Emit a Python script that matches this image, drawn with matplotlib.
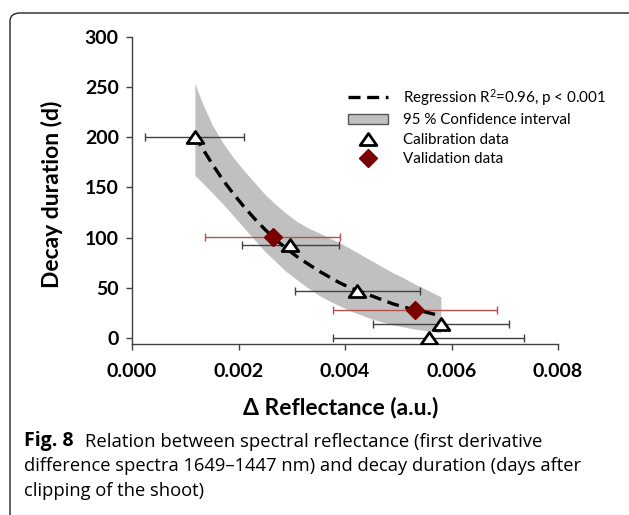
import matplotlib
matplotlib.use("Agg")
import matplotlib.pyplot as plt
from matplotlib.patches import FancyBboxPatch, Patch
from matplotlib.lines import Line2D
from matplotlib.path import Path

# ---- data ----
cal_x = [0.00118, 0.00297, 0.00423, 0.00580, 0.00557]
cal_y = [200, 93, 47, 14, 0]
cal_xerr = [0.00093, 0.00091, 0.00117, 0.00128, 0.00180]

val_x = [0.00264, 0.00531]
val_y = [101, 28]
val_xerr = [0.00126, 0.00154]

reg_x = [0.00118, 0.0013, 0.0015, 0.0017, 0.0019, 0.0021, 0.0023, 0.0025,
         0.0027, 0.0029, 0.0031, 0.0033, 0.0035, 0.0037, 0.0039, 0.0041,
         0.0043, 0.0045, 0.0047, 0.0049, 0.0051, 0.0053, 0.0055, 0.0058]
reg_y = [202, 191, 174, 158, 144, 131, 119, 108, 98, 89, 81, 74, 67, 61,
         55, 50, 46, 42, 38, 34, 31, 28, 26, 22]
ci_upper = [254, 237, 213, 195, 180, 167, 155, 143, 133, 124, 116, 110,
            105, 100, 95, 89, 83, 77, 71, 65, 60, 54, 49, 41]
ci_lower = [162, 156, 145, 134, 122, 110, 98, 86, 76, 66, 58, 50, 43, 37,
            32, 27, 23, 19, 16, 13, 11, 9, 7.5, 5]

x_ticks = [0.000, 0.002, 0.004, 0.006, 0.008]
x_ticklabels = ["0.000", "0.002", "0.004", "0.006", "0.008"]
y_ticks = [0, 50, 100, 150, 200, 250, 300]

legend_labels = ["Regression R$^{2}$=0.96, p < 0.001", "95 % Confidence interval",
                 "Calibration data", "Validation data"]
caption_bold = "Fig. 8"
caption_lines = ["Relation between spectral reflectance (first derivative",
                 "difference spectra 1649\u20131447 nm) and decay duration (days after",
                 "clipping of the shoot)"]

plt.rcParams['font.family'] = ['Lato', 'DejaVu Sans']
plt.rcParams['mathtext.fontset'] = 'custom'
plt.rcParams['mathtext.rm'] = 'Lato'
plt.rcParams['mathtext.it'] = 'Lato:italic'
plt.rcParams['mathtext.bf'] = 'Lato:bold'

W, H = 629, 515
fig = plt.figure(figsize=(W / 100, H / 100), dpi=100)

def fx(px):
    return px / W

def fy(py):
    return 1 - py / H

ax = fig.add_axes([fx(132), fy(344), fx(558) - fx(132), fy(37) - fy(344)])

axis_col = "#404040"
band_col = "#c0c0c0"
val_err_col = "#b5504d"
val_col = "#7a0000"

ax.fill_between(reg_x, ci_lower, ci_upper, color=band_col, lw=0, zorder=1)

ax.errorbar(cal_x, cal_y, xerr=cal_xerr, fmt='none', ecolor=axis_col,
            elinewidth=1.0, capsize=2.7, capthick=1.0, zorder=2)
ax.errorbar(val_x, val_y, xerr=val_xerr, fmt='none', ecolor=val_err_col,
            elinewidth=1.0, capsize=2.7, capthick=1.0, zorder=2)

ax.plot(reg_x, reg_y, color='black', lw=2.4, linestyle=(0, (3.6, 2.0)), zorder=3)

tri = Path([(0, 0.72), (-1, -0.72), (1, -0.72), (0, 0.72)],
           [Path.MOVETO, Path.LINETO, Path.LINETO, Path.CLOSEPOLY])
ax.plot(cal_x, cal_y, linestyle='none', marker=tri, markersize=12,
        markerfacecolor='white', markeredgecolor='black', markeredgewidth=2.0,
        zorder=4)
ax.plot(val_x, val_y, linestyle='none', marker='D', markersize=9.5,
        markerfacecolor=val_col, markeredgecolor=val_col, zorder=5)

ax.set_xlim(0, 0.008)
ax.set_ylim(-6, 300)
ax.set_xticks(x_ticks)
ax.set_xticklabels(x_ticklabels)
ax.set_yticks(y_ticks)
for s in ['top', 'right']:
    ax.spines[s].set_visible(False)
for s in ['left', 'bottom']:
    ax.spines[s].set_color(axis_col)
    ax.spines[s].set_linewidth(1.0)
ax.tick_params(axis='both', colors=axis_col, width=1.0, length=4.5,
               labelsize=14, labelcolor='black')
ax.tick_params(axis='x', pad=9)
ax.tick_params(axis='y', pad=5)
for lab in ax.get_xticklabels() + ax.get_yticklabels():
    lab.set_fontweight('bold')

ax.set_xlabel("\u0394 Reflectance (a.u.)", fontsize=16.5, fontweight='bold',
              va='center', ha='center')
ax.xaxis.set_label_coords((340.5 - 132) / 426, (344 - 408) / 307)
ax.set_ylabel("Decay duration (d)", fontsize=16.5, fontweight='bold',
              va='center', ha='center')
ax.yaxis.set_label_coords((52 - 132) / 426, (344 - 194.5) / 307)

handles = [
    Line2D([], [], color='black', lw=2.4, linestyle=(0, (3.6, 2.0))),
    Patch(facecolor=band_col, edgecolor='#555555', linewidth=1.0),
    Line2D([], [], linestyle='none', marker=tri, markersize=12,
           markerfacecolor='white', markeredgecolor='black', markeredgewidth=2.0),
    Line2D([], [], linestyle='none', marker='D', markersize=9.5,
           markerfacecolor=val_col, markeredgecolor=val_col),
]
leg = ax.legend(handles, legend_labels, loc='upper left',
                bbox_to_anchor=((348 - 132) / 426, (344 - 87) / 307),
                frameon=False, fontsize=10.9, borderpad=0, borderaxespad=0,
                handlelength=2.65, handleheight=0.7, handletextpad=1.0,
                labelspacing=0.36)

# caption
cap_font = ['Open Sans', 'DejaVu Sans']
t0 = fig.text(fx(24), fy(441), caption_bold, fontsize=14, fontweight='bold',
              family=cap_font, va='center', ha='left')
fig.canvas.draw()
ax.annotate(caption_lines[0], xy=(1, 0), xycoords=t0, xytext=(8, 0),
            textcoords='offset points', va='bottom',
            ha='left', fontsize=13.3, family=cap_font, annotation_clip=False)
fig.text(fx(24), fy(466), caption_lines[1], fontsize=13.2,
         family=cap_font, va='center', ha='left')
fig.text(fx(24), fy(491), caption_lines[2], fontsize=13.2,
         family=cap_font, va='center', ha='left')

# rounded frame
box = FancyBboxPatch((fx(10), fy(530)), fx(650) - fx(10), fy(13) - fy(530),
                     boxstyle="round,pad=0,rounding_size=0.016",
                     transform=fig.transFigure, facecolor='none',
                     edgecolor='#222222', linewidth=1.0, clip_on=False)
fig.patches.append(box)

fig.savefig("out.png", dpi=100)
